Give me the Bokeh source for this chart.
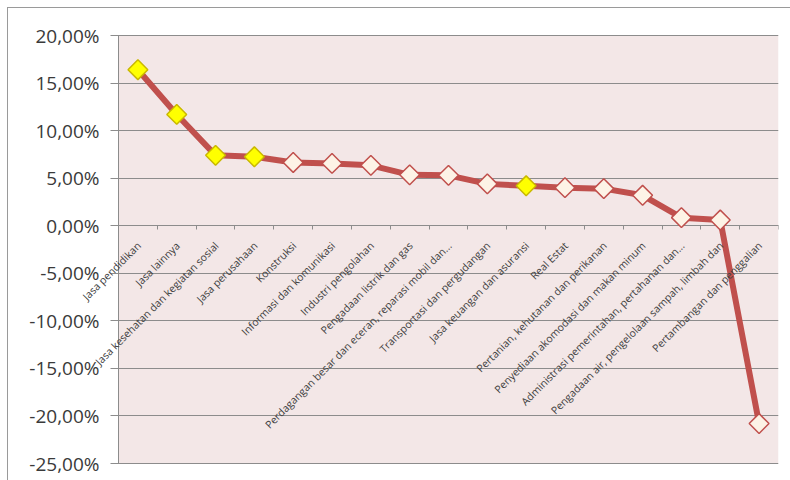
from math import pi
from bokeh.plotting import figure
from bokeh.models import Range1d, FixedTicker, ColumnDataSource, Label, BoxAnnotation
from bokeh.embed import file_html
from bokeh.resources import INLINE

categories = [
    "Jasa pendidikan",
    "Jasa lainnya",
    "Jasa kesehatan dan kegiatan sosial",
    "Jasa perusahaan",
    "Konstruksi",
    "Informasi dan komunikasi",
    "Industri pengolahan",
    "Pengadaan listrik dan gas",
    "Perdagangan besar dan eceran, reparasi mobil dan...",
    "Transportasi dan pergudangan",
    "Jasa keuangan dan asuransi",
    "Real Estat",
    "Pertanian, kehutanan dan perikanan",
    "Penyediaan akomodasi dan makan minum",
    "Administrasi pemerintahan, pertahanan dan...",
    "Pengadaan air, pengelolaan sampah, limbah dan",
    "Pertambangan dan penggalian",
]
growth_pct = [16.4, 11.7, 7.4, 7.25, 6.65, 6.55, 6.35, 5.35, 5.3,
              4.4, 4.2, 4.0, 3.9, 3.2, 0.85, 0.6, -20.8]
highlight = [True, True, True, True, False, False, False, False, False,
             False, True, False, False, False, False, False, False]
y_ticks = [-25, -20, -15, -10, -5, 0, 5, 10, 15, 20]
y_tick_labels = ["-25,00%", "-20,00%", "-15,00%", "-10,00%", "-5,00%",
                 "0,00%", "5,00%", "10,00%", "15,00%", "20,00%"]

n = len(categories)
xs = list(range(n))
fills = ["#ffff00" if h else "#fdf3e6" for h in highlight]
edges = ["#c9b800" if h else "#c0504d" for h in highlight]
src = ColumnDataSource(dict(x=xs, y=growth_pct, fill=fills, edge=edges))

# layout (pixels, relative to the figure which starts at 8,8)
FIG_W, FIG_H = 782, 472
FRAME_L, AREA_L, AREA_R = 2, 110, 770
FRAME_T, AREA_T, AREA_B = 2, 27, 455
cat_px = (AREA_R - AREA_L) / n
val_px = (AREA_B - AREA_T) / (y_ticks[-1] - y_ticks[0])
x_start = -0.5 - (AREA_L - FRAME_L) / cat_px
y_top = y_ticks[-1] + (AREA_T - FRAME_T) / val_px
y_bot = y_ticks[0] - (FIG_H - AREA_B) / val_px

p = figure(width=FIG_W, height=FIG_H, output_backend="svg", toolbar_location=None,
           x_range=Range1d(x_start, n - 0.5), y_range=Range1d(y_bot, y_top),
           min_border_left=FRAME_L, min_border_top=FRAME_T,
           min_border_right=FIG_W - AREA_R, min_border_bottom=0)
p.margin = (8, 0, 0, 8)
p.styles = {"outline": "1px solid #9a9a9a"}
p.background_fill_color = "white"
p.border_fill_color = "white"
p.outline_line_color = None
p.xgrid.grid_line_color = None
p.ygrid.grid_line_color = None

# plot-area fill
p.add_layout(BoxAnnotation(left=-0.5, right=n - 0.5, bottom=y_ticks[0], top=y_ticks[-1],
                           fill_color="#f3e7e7", fill_alpha=1,
                           line_color=None, level="image"))

# y axis on the left edge of the plot area; long inward ticks act as grid lines
p.yaxis.fixed_location = -0.5
p.yaxis.bounds = (y_ticks[0], y_ticks[-1])
p.yaxis.ticker = FixedTicker(ticks=y_ticks)
p.yaxis.major_label_overrides = dict(zip(y_ticks, y_tick_labels))
p.yaxis.major_label_text_font = "Open Sans"
p.yaxis.major_label_text_font_size = "19px"
p.yaxis.major_label_text_color = "#3a3a3a"
p.yaxis.major_label_standoff = 11
p.yaxis.major_tick_in = AREA_R - AREA_L
p.yaxis.major_tick_out = 8
p.yaxis.major_tick_line_color = "#8c8c8c"
p.yaxis.minor_tick_line_color = None
p.yaxis.axis_line_color = "#8c8c8c"
p.yaxis.level = "underlay"

# x axis crossing at zero (tick marks between categories)
p.xaxis.fixed_location = 0
p.xaxis.bounds = (-0.5, n - 0.5)
p.xaxis.ticker = FixedTicker(ticks=[], minor_ticks=[i - 0.5 for i in xs] + [n - 0.5])
p.xaxis.major_tick_line_color = None
p.xaxis.minor_tick_in = 0
p.xaxis.minor_tick_out = 4
p.xaxis.minor_tick_line_color = "#8c8c8c"
p.xaxis.axis_line_color = "#8c8c8c"
p.xaxis.level = "underlay"

p.line("x", "y", source=src, line_color="#c0504d", line_width=6)
p.scatter("x", "y", source=src, marker="square", angle=pi / 4, size=14,
          fill_color="fill", line_color="edge", line_width=1.5)

for xi, name in zip(xs, categories):
    p.add_layout(Label(x=xi, y=0, text=name, angle=pi / 4,
                       text_align="right", text_baseline="middle",
                       x_offset=1, y_offset=-18,
                       text_font="Open Sans", text_font_size="10.5px",
                       text_color="#404040"))

open("out.html", "w").write(file_html(p, INLINE))
